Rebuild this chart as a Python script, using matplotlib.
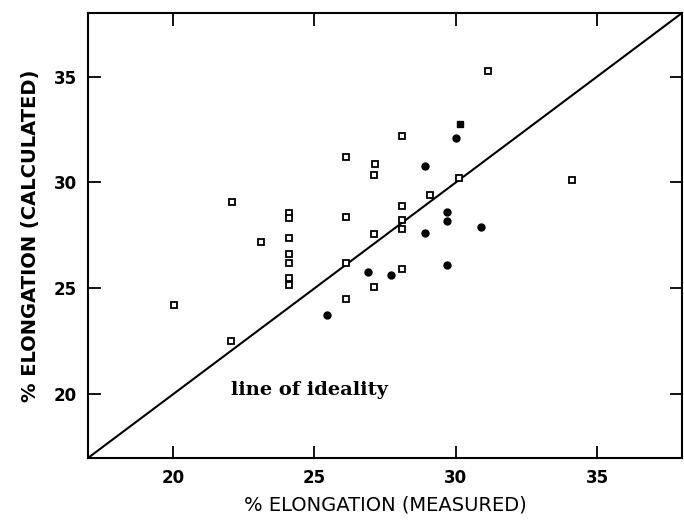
import matplotlib
matplotlib.use("Agg")
import matplotlib.pyplot as plt
import numpy as np

# open squares: (measured, calculated)
sq_meas = [26.1, 27.15, 27.1, 22.1, 24.1, 24.1, 26.1, 23.1, 24.1, 27.1, 24.1, 24.1, 24.1, 24.1,
           26.1, 27.1, 26.1, 20.05, 22.05, 31.15, 28.1, 30.1, 34.1, 29.1, 28.1, 28.1, 28.1, 28.1]
sq_calc = [31.2, 30.85, 30.35, 29.1, 28.55, 28.3, 28.35, 27.2, 27.4, 27.55, 26.6, 26.2, 25.5, 25.15,
           26.2, 25.05, 24.5, 24.2, 22.5, 35.25, 32.2, 30.2, 30.1, 29.4, 28.9, 28.25, 27.8, 25.9]

# filled square
fsq_meas = [30.15]
fsq_calc = [32.75]

# filled circles
dot_meas = [30.0, 28.9, 29.7, 29.7, 28.9, 30.9, 26.9, 27.7, 25.45, 29.7]
dot_calc = [32.1, 30.8, 28.6, 28.2, 27.6, 27.9, 25.75, 25.65, 23.75, 26.1]

ticks = [20, 25, 30, 35]
lo, hi = 17, 38

fig = plt.figure(figsize=(6.84, 5.22), dpi=100)
ax = fig.add_axes([0.129, 0.123, 0.868, 0.852])

ax.plot([lo, hi], [lo, hi], color='black', lw=1.5)
ax.plot(sq_meas, sq_calc, 's', ms=4.5, mfc='white', mec='black', mew=1.3, ls='none')
ax.plot(fsq_meas, fsq_calc, 's', ms=5, mfc='black', mec='black', ls='none')
ax.plot(dot_meas, dot_calc, 'o', ms=5, mfc='black', mec='black', ls='none')

ax.text(22.05, 20.2, "line of ideality", family='DejaVu Serif', fontweight='bold',
        fontsize=14, va='center', ha='left')

ax.set_xlim(lo, hi)
ax.set_ylim(lo, hi)
ax.set_xticks(ticks)
ax.set_yticks(ticks)
ax.tick_params(direction='in', length=9, width=1.3, top=True, right=True,
               labelsize=12, pad=8)
for lab in ax.get_xticklabels() + ax.get_yticklabels():
    lab.set_fontweight('bold')
for s in ax.spines.values():
    s.set_linewidth(1.5)

ax.set_xlabel("% ELONGATION (MEASURED)", fontsize=14, labelpad=6)
ax.set_ylabel("% ELONGATION (CALCULATED)", fontsize=14, fontweight='bold', labelpad=10)

fig.savefig("out.png", dpi=100)
